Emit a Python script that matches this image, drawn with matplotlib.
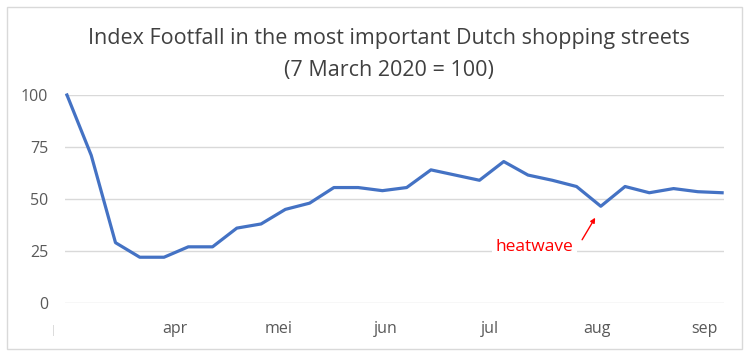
import matplotlib
matplotlib.use('Agg')
import matplotlib.pyplot as plt
import matplotlib.transforms as mtransforms
from matplotlib.patches import Rectangle

plt.rcParams['font.family'] = ['Open Sans', 'DejaVu Sans']

# weekly index, starting 7 March 2020 (=100)
weeks = list(range(28))
footfall = [100, 71, 29, 22, 22, 27, 27, 36, 38, 45, 48, 55.5, 55.5, 54,
            55.5, 64, 61.5, 59, 68, 61.5, 59, 56, 46.5, 56, 53, 55, 53.5, 53]

# month labels sit on the 7th of each month (days since 7 March / 7)
month_pos = [31 / 7, 61 / 7, 92 / 7, 122 / 7, 153 / 7, 184 / 7]
month_lbl = ['apr', 'mei', 'jun', 'jul', 'aug', 'sep']
y_ticks = [0, 25, 50, 75, 100]

fig = plt.figure(figsize=(7.5, 3.56), dpi=100)
ax = fig.add_axes([0.0867, 0.1489, 0.8787, 0.5843])

ax.plot(weeks, footfall, color='#4472C4', lw=2.3, solid_joinstyle='round', clip_on=False, zorder=3)

ax.set_yticks(y_ticks)
ax.set_xticks(month_pos)
ax.set_xticklabels(month_lbl)
ax.set_xlim(-0.08, 27.08)
ax.set_ylim(0, 100)
ax.tick_params(axis='both', length=0, labelsize=11.5, colors='#595959')
ax.tick_params(axis='x', pad=13)
ax.tick_params(axis='y', pad=12)
ax.grid(axis='y', color='#d9d9d9', lw=1)
ax.set_axisbelow(True)
for s in ax.spines.values():
    s.set_visible(False)

# leftover label mark left of the first week (march)
trans = mtransforms.blended_transform_factory(ax.transData, ax.transAxes)
ax.text(-0.57, -0.13, '|', transform=trans, ha='center', va='center', fontsize=7,
        color='#c8c8c8', clip_on=False)

# heatwave note
ax.text(19.26, 27, 'heatwave', color='red', fontsize=12.5, ha='center', va='center',
        bbox=dict(boxstyle='square,pad=0.2', fc='white', ec='none'), zorder=4)
ax.annotate('', xy=(21.77, 41), xytext=(21.23, 30.4),
            arrowprops=dict(arrowstyle='-|>', color='red', lw=1, mutation_scale=7,
                            shrinkA=0, shrinkB=0))

fig.text(0.519, 0.891, 'Index Footfall in the most important Dutch shopping streets',
         ha='center', va='center', fontsize=15.5, color='#404040')
fig.text(0.519, 0.801, '(7 March 2020 = 100)', ha='center', va='center', fontsize=15.5, color='#404040')

fig.patches.append(Rectangle((7 / 750, 7 / 356), 735 / 750, 342 / 356, transform=fig.transFigure,
                             fill=False, ec='#d9d9d9', lw=1))

fig.savefig('out.png', dpi=100)
